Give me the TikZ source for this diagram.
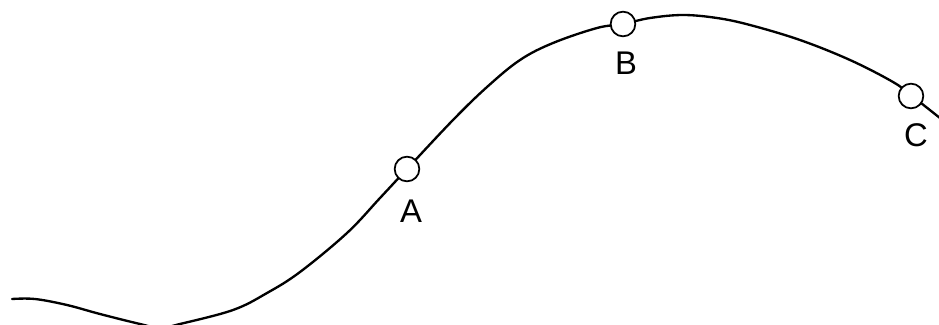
\documentclass[tikz,border=0pt]{standalone}
\usepackage{fontspec}
\setmainfont{Liberation Sans}

\begin{document}
\begin{tikzpicture}[x=0.03cm, y=-0.03cm, font=\fontsize{28}{32}\selectfont]
  \useasboundingbox (0,0) rectangle (939,324);
  \clip (0,0) rectangle (939,324);
  \draw[line width=2pt, line cap=round] plot[smooth, tension=0.6] coordinates {(12,299) (35,299) (67,305) (100,314) (140,324) (160,328) (180,324) (233,310) (267,293) (300,272) (347,233) (380,198) (407,169) (453,120) (487,87) (520,60) (553,43) (597,28) (623,24) (650,18) (683,15) (717,18) (750,25) (800,40) (850,60) (893,82) (912,96) (945,122)};
  \node[draw, circle, fill=white, line width=1.5pt, minimum size=0.74cm, inner sep=0pt] (A) at (407,169) {};
  \node[draw, circle, fill=white, line width=1.5pt, minimum size=0.74cm, inner sep=0pt] (B) at (623,24) {};
  \node[draw, circle, fill=white, line width=1.5pt, minimum size=0.74cm, inner sep=0pt] (C) at (911,96) {};
  \node (labelA) at (411,211) {A};
  \node (labelB) at (626,63) {B};
  \node (labelC) at (916,135) {C};
\end{tikzpicture}
\end{document}
